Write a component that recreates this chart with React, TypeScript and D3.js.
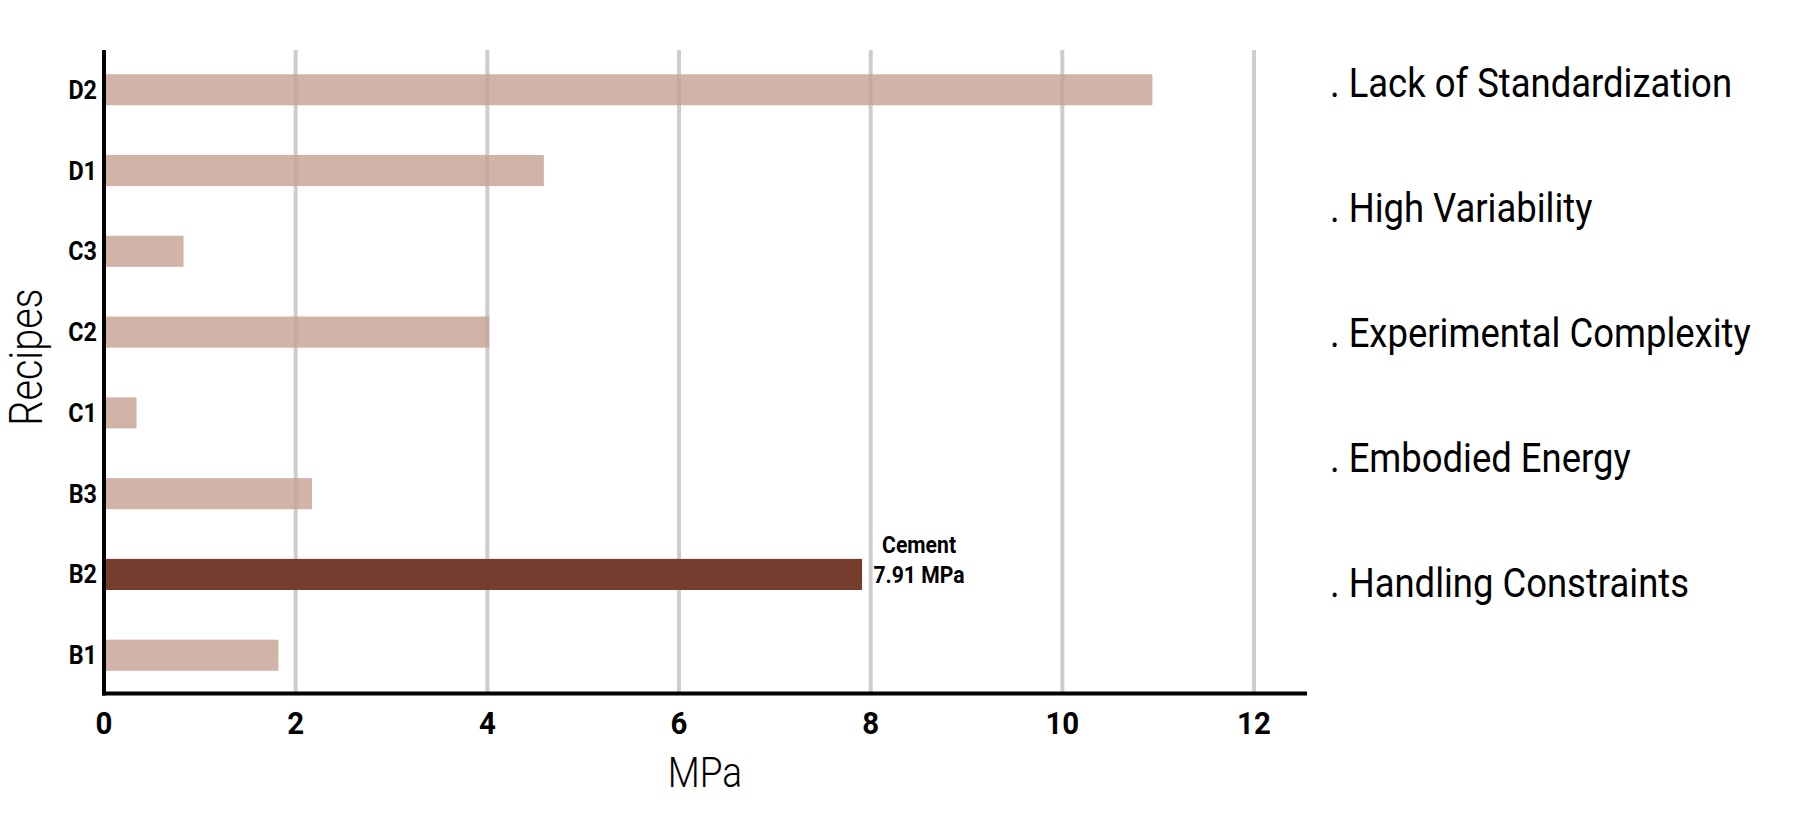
import React from "react";
import * as d3 from "d3";

const recipes = ["D2", "D1", "C3", "C2", "C1", "B3", "B2", "B1"];
const strengths = [10.94, 4.59, 0.83, 4.02, 0.34, 2.17, 7.91, 1.82];
const xTicks = [0, 2, 4, 6, 8, 10, 12];
const highlight = "B2";
const highlightLabel = ["Cement", "7.91 MPa"];
const challenges = [
  ". Lack of Standardization",
  ". High Variability",
  ". Experimental Complexity",
  ". Embodied Energy",
  ". Handling Constraints",
];

const W = 1802;
const H = 813;
const FONT = "Roboto, 'Noto Sans', sans-serif";

export default function App() {
  const x = d3.scaleLinear().domain([0, 12]).range([104, 1254]);
  const y = d3.scaleBand<string>().domain(recipes).range([50, 695]).paddingInner(0.615).paddingOuter(0.3);
  const legendY = d3.scalePoint<string>().domain(challenges).range([97, 597]);
  const axisBottom = 693.5;
  const axisLeft = 104;
  const data = recipes.map((r, i) => ({ r, v: strengths[i] }));

  return (
    <svg width={W} height={H} style={{ position: "absolute", left: 0, top: 0, background: "#fff" }}>
      {/* gridlines */}
      {xTicks.filter((t) => t > 0).map((t) => (
        <line key={"g" + t} x1={x(t)} x2={x(t)} y1={50} y2={axisBottom} stroke="#cdcdcd" strokeWidth={4} />
      ))}
      {/* bars */}
      {data.map((d) => (
        <rect
          key={d.r}
          x={x(0)}
          y={y(d.r)!}
          width={x(d.v) - x(0)}
          height={y.bandwidth()}
          fill={d.r === highlight ? "#763c2e" : "#c5a092"}
          fillOpacity={d.r === highlight ? 1 : 0.8}
        />
      ))}
      {/* highlight label */}
      {data.filter((d) => d.r === highlight).map((d) => (
        <g key="hl" fontFamily={FONT} fontWeight={700} fontSize={23} fill="#000">
          <text transform={`translate(${x(d.v) + 57},553) scale(0.92,1)`} textAnchor="middle">{highlightLabel[0]}</text>
          <text transform={`translate(${x(d.v) + 57},583) scale(0.92,1)`} textAnchor="middle">{highlightLabel[1]}</text>
        </g>
      ))}
      {/* axes */}
      <line x1={axisLeft} x2={axisLeft} y1={50} y2={axisBottom + 2} stroke="#000" strokeWidth={4} />
      <line x1={axisLeft - 2} x2={1307} y1={axisBottom} y2={axisBottom} stroke="#000" strokeWidth={4} />
      {/* y tick labels */}
      {recipes.map((r) => (
        <text
          key={"yl" + r}
          transform={`translate(97,${y(r)! + y.bandwidth() / 2 + 9}) scale(0.9,1)`}
          textAnchor="end"
          fontFamily={FONT}
          fontWeight={700}
          fontSize={26}
          fill="#000"
        >
          {r}
        </text>
      ))}
      {/* x tick labels */}
      {xTicks.map((t) => (
        <text
          key={"xl" + t}
          transform={`translate(${x(t)},734) scale(0.95,1)`}
          textAnchor="middle"
          fontFamily={FONT}
          fontWeight={700}
          fontSize={31}
          fill="#000"
        >
          {t}
        </text>
      ))}
      {/* axis titles */}
      <text
        transform="translate(705,787) scale(0.86,1)"
        textAnchor="middle"
        fontFamily={FONT}
        fontWeight={300}
        fontSize={43}
        fill="#000"
      >
        MPa
      </text>
      <text
        transform="translate(42,357) rotate(-90) scale(0.86,1)"
        textAnchor="middle"
        fontFamily={FONT}
        fontWeight={300}
        fontSize={46}
        fill="#000"
      >
        Recipes
      </text>
      {/* challenges list */}
      {challenges.map((c) => (
        <text
          key={c}
          transform={`translate(1330,${legendY(c)}) scale(0.9,1)`}
          fontFamily={FONT}
          fontWeight={400}
          fontSize={40.5}
          fill="#000"
        >
          {c}
        </text>
      ))}
    </svg>
  );
}
